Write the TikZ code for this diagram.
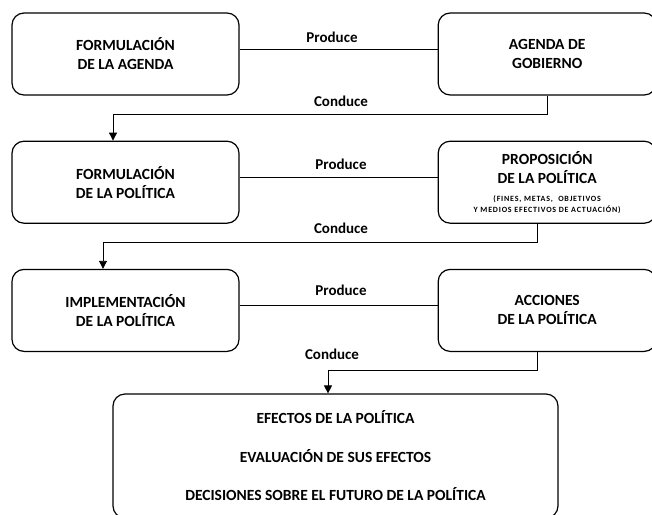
\documentclass[tikz,border=0pt]{standalone}
\usepackage{fontspec}
\setmainfont{Carlito}
\usetikzlibrary{positioning, arrows.meta, calc}

\begin{document}
\begin{tikzpicture}[x=1pt, y=-1pt,
    box/.style={draw, line width=1.2pt, rounded corners=12pt, align=center, minimum width=227pt, minimum height=82pt, font=\fontsize{15.5}{19}\selectfont\bfseries},
    lbl/.style={font=\fontsize{15}{18}\selectfont\bfseries},
    conn/.style={line width=0.9pt},
    flow/.style={line width=0.9pt, -{Triangle[length=8pt, width=8pt]}}]
\clip (0,0) rectangle (652,514);

% boxes
\node[box] (fag) at (125.5,54) {FORMULACIÓN\\DE LA AGENDA};
\node[box, minimum width=218pt, right=198pt of fag] (agg) {AGENDA DE\\GOBIERNO};
\node[box, below=45pt of fag] (fpo) {FORMULACIÓN\\DE LA POLÍTICA};
\node[box, minimum width=218pt, right=198pt of fpo] (ppo) {PROPOSICIÓN\\DE LA POLÍTICA\\[-1pt]{\fontsize{8}{11}\selectfont\addfontfeature{LetterSpace=10}(FINES, METAS,\ \ OBJETIVOS}\\[-8pt]{\fontsize{8}{11}\selectfont\addfontfeature{LetterSpace=10}Y MEDIOS EFECTIVOS\ DE ACTUACIÓN)}};
\node[box, below=45pt of fpo] (imp) {IMPLEMENTACIÓN\\DE LA POLÍTICA};
\node[box, minimum width=218pt, right=198pt of imp] (acc) {ACCIONES\\DE LA POLÍTICA};
\node[box, minimum width=445pt, minimum height=124pt, font=\fontsize{15.5}{38.5}\selectfont\bfseries] (efe) at (335.5,456) {EFECTOS DE LA POLÍTICA\\EVALUACIÓN DE SUS EFECTOS\\DECISIONES SOBRE EL FUTURO DE LA POLÍTICA};

% connectors
\draw[conn] ([yshift=4.5pt]fag.east) -- ([yshift=4.5pt]agg.west);
\draw[conn] ([yshift=4.5pt]fpo.east) -- ([yshift=4.5pt]ppo.west);
\draw[conn] ([yshift=4.5pt]imp.east) -- ([yshift=4.5pt]acc.west);
\draw[flow] (agg.south) -- ++(0,19) -| ([xshift=-12.5pt]fpo.north);
\draw[flow] ([xshift=-10pt]ppo.south) -- ++(0,19) -| ([xshift=-22.5pt]imp.north);
\draw[flow] ([xshift=-10pt]acc.south) -- ++(0,18) -| ([xshift=-7.5pt]efe.north);

% labels
\node[lbl] (pr1) at (332,37) {Produce};
\node[lbl] (pr2) at (341,164) {Produce};
\node[lbl] (pr3) at (341,290) {Produce};
\node[lbl] (co1) at (341,101) {Conduce};
\node[lbl] (co2) at (341,228) {Conduce};
\node[lbl] (co3) at (332,354) {Conduce};
\end{tikzpicture}
\end{document}
